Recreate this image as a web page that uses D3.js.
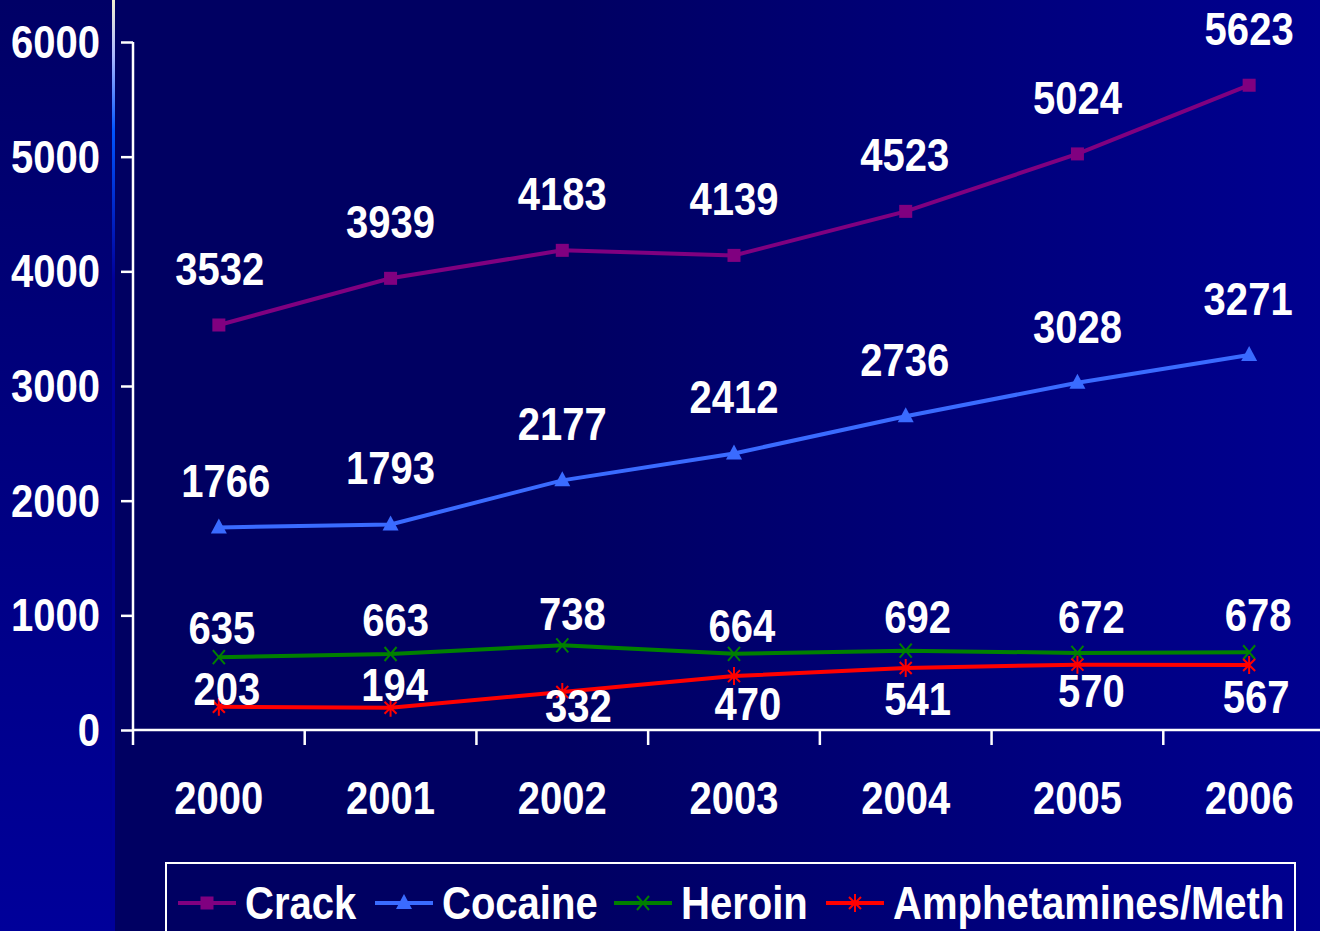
<!DOCTYPE html>
<html><head><meta charset="utf-8">
<script src="https://cdn.jsdelivr.net/npm/d3@7"></script>
<style>html,body{margin:0;padding:0;overflow:hidden;background:#000066}</style>
</head><body><svg id="c" width="1320" height="931"></svg>
<script>
const years = ["2000","2001","2002","2003","2004","2005","2006"];
const crack = [3532,3939,4183,4139,4523,5024,5623];
const cocaine = [1766,1793,2177,2412,2736,3028,3271];
const heroin = [635,663,738,664,692,672,678];
const amph = [203,194,332,470,541,570,567];
const yTicks = [0,1000,2000,3000,4000,5000,6000];
const seriesNames = ["Crack","Cocaine","Heroin","Amphetamines/Meth"];
const seriesColors = ["#800080","#3a6bff","#008000","#ff0000"];
const seriesSymbols = ["square","triangle","x","asterisk"];

const svg = d3.select("#c");
const FONT = "'Liberation Sans','Arial',sans-serif";
const NARROW = 0.87;
function condense(sel){
  sel.each(function(){
    const w = this.getComputedTextLength();
    d3.select(this).attr("textLength", w*NARROW).attr("lengthAdjust","spacingAndGlyphs");
  });
}
const defs = svg.append("defs");
const g1 = defs.append("linearGradient").attr("id","bgR").attr("x1",0).attr("x2",1).attr("y1",0).attr("y2",0);
g1.append("stop").attr("offset","0").attr("stop-color","#000062");
g1.append("stop").attr("offset","0.38").attr("stop-color","#000062");
g1.append("stop").attr("offset","1").attr("stop-color","#000090");
const g2 = defs.append("linearGradient").attr("id","bgL").attr("x1",0).attr("x2",0).attr("y1",0).attr("y2",1);
g2.append("stop").attr("offset","0").attr("stop-color","#000066");
g2.append("stop").attr("offset","1").attr("stop-color","#00009a");
const g3 = defs.append("linearGradient").attr("id","bar").attr("x1",0).attr("x2",0).attr("y1",0).attr("y2",1);
g3.append("stop").attr("offset","0").attr("stop-color","#f4f0d0");
g3.append("stop").attr("offset","0.06").attr("stop-color","#aab8ff");
g3.append("stop").attr("offset","0.14").attr("stop-color","#0055ff");
g3.append("stop").attr("offset","0.3").attr("stop-color","#00009a");
g3.append("stop").attr("offset","1").attr("stop-color","#00009a");

svg.append("rect").attr("x",0).attr("y",0).attr("width",113).attr("height",931).attr("fill","url(#bgL)");
svg.append("rect").attr("x",113).attr("y",0).attr("width",1207).attr("height",931).attr("fill","url(#bgR)");
svg.append("rect").attr("x",112).attr("y",0).attr("width",3).attr("height",931).attr("fill","url(#bar)");

const x = d3.scaleBand().domain(years).range([133,1335]);
const y = d3.scaleLinear().domain([0,6000]).range([730,42]);
const cx = d => x(d) + x.bandwidth()/2;

// axes
const yAx = svg.append("g").attr("transform","translate(133,0)")
  .call(d3.axisLeft(y).tickValues(yTicks).tickSize(12).tickPadding(0).tickFormat(d3.format("d")));
yAx.select(".domain").attr("stroke","#fff").attr("stroke-width",2.5).attr("d","M0,42V730");
yAx.selectAll(".tick line").attr("stroke","#fff").attr("stroke-width",2.5);
yAx.selectAll(".tick text").attr("x",-33).attr("dy","0.34em").attr("fill","#fff")
  .attr("font-family",FONT).attr("font-weight","bold").attr("font-size",46).call(condense);

const xAx = svg.append("g").attr("transform","translate(0,730)")
  .call(d3.axisBottom(x).tickSize(0).tickPadding(0));
xAx.select(".domain").attr("stroke","#fff").attr("stroke-width",2.5).attr("d","M133,0H1335");
xAx.selectAll(".tick text").attr("y",84).attr("dy",0).attr("fill","#fff")
  .attr("font-family",FONT).attr("font-weight","bold").attr("font-size",46).call(condense);
// category boundary ticks
svg.append("g").selectAll("line").data(years).join("line")
  .attr("x1",d=>x(d)).attr("x2",d=>x(d)).attr("y1",730).attr("y2",745)
  .attr("stroke","#fff").attr("stroke-width",2.5);

function marker(sel, type, color){
  if(type==="square"){
    sel.append("rect").attr("x",-6.5).attr("y",-6.5).attr("width",13).attr("height",13).attr("fill",color);
  } else if(type==="triangle"){
    sel.append("path").attr("d","M0,-9L8,6H-8Z").attr("fill",color);
  } else if(type==="x"){
    sel.append("path").attr("d","M-6,-7L6,7M-6,7L6,-7").attr("stroke",color).attr("stroke-width",2);
  } else {
    sel.append("path").attr("d","M-6,-6L6,6M-6,6L6,-6M0,-9V9").attr("stroke",color).attr("stroke-width",2);
  }
}

const allSeries = [crack,cocaine,heroin,amph];
// label baseline offsets (per series) relative to marker
const labelDy = [
  [-40,-40,-40,-40,-40,-40,-40],
  [-30,-40,-40,-40,-40,-40,-40],
  [-13,-18,-15,-12,-18,-20,-21],
  [-2,-7,30,44,47,42,48]
];
const labelDx = [
  [1,0,0,0,-1,0,0],
  [7,0,0,0,-1,0,-1],
  [3,5,10,8,12,14,9],
  [8,4,16,14,12,14,7]
];

allSeries.forEach((vals,si)=>{
  const color = seriesColors[si];
  const line = d3.line().x((d,i)=>cx(years[i])).y(d=>y(d));
  svg.append("path").datum(vals).attr("d",line).attr("fill","none")
    .attr("stroke",color).attr("stroke-width",4);
  const pts = svg.append("g").selectAll("g").data(vals).join("g")
    .attr("transform",(d,i)=>`translate(${cx(years[i])},${y(d)})`);
  pts.each(function(){ marker(d3.select(this), seriesSymbols[si], color); });
  svg.append("g").selectAll("text").data(vals).join("text")
    .attr("x",(d,i)=>cx(years[i])+labelDx[si][i])
    .attr("y",(d,i)=>y(d)+labelDy[si][i])
    .attr("text-anchor","middle").attr("fill","#fff")
    .attr("font-family",FONT).attr("font-weight","bold").attr("font-size",46)
    .text(d=>d).call(condense);
});

// legend
svg.append("rect").attr("x",166).attr("y",863).attr("width",1129).attr("height",90)
  .attr("fill","none").attr("stroke","#fff").attr("stroke-width",2);
const legX = [178,375,614,826];
const leg = svg.append("g").selectAll("g").data(seriesNames).join("g")
  .attr("transform",(d,i)=>`translate(${legX[i]},903)`);
leg.append("line").attr("x1",0).attr("x2",58).attr("y1",0).attr("y2",0)
  .attr("stroke",(d,i)=>seriesColors[i]).attr("stroke-width",4);
leg.each(function(d,i){
  const m = d3.select(this).append("g").attr("transform","translate(29,0)");
  marker(m, seriesSymbols[i], seriesColors[i]);
});
leg.append("text").attr("x",67).attr("y",16).attr("fill","#fff")
  .attr("font-family",FONT).attr("font-weight","bold").attr("font-size",46)
  .text(d=>d).call(condense);
</script></body></html>
